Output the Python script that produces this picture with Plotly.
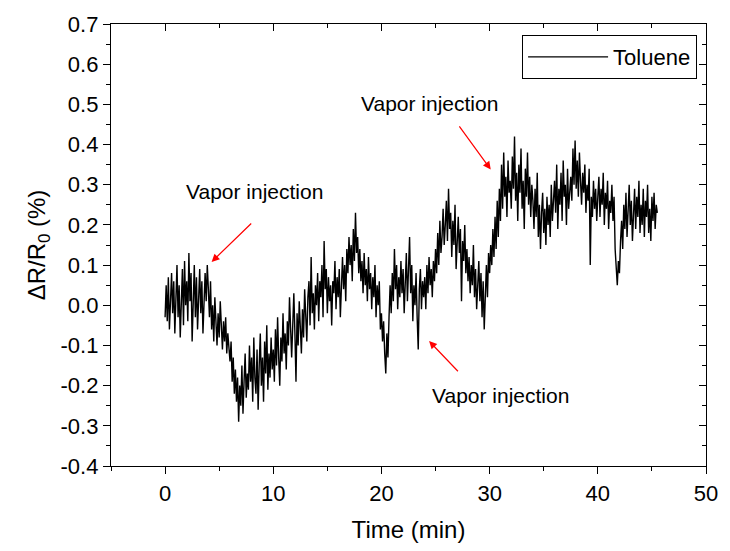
import plotly.graph_objects as go

t_step = 0.1
response = [
    -0.03, 0.05, -0.04, 0.07, -0.06, 0.03, 0.08, -0.02, 0.06, -0.07, 0.04, 0.10, -0.03, 0.05, -0.08, 0.02, 0.09, -0.05, 0.11, 0.00,
    0.06, -0.04, 0.13, 0.01, 0.08, -0.09, 0.05, 0.10, -0.03, 0.07, -0.06, 0.04, 0.09, -0.02, 0.06, -0.07, 0.03, 0.08, 0.01, 0.10,
    0.04, -0.03, 0.06, -0.06, 0.00, -0.09, 0.02, -0.05, -0.10, -0.02, -0.08, 0.01, -0.06, -0.11, -0.04, -0.09, -0.03, -0.12, -0.07, -0.10,
    -0.14, -0.09, -0.19, -0.13, -0.22, -0.16, -0.24, -0.18, -0.29, -0.20, -0.25, -0.15, -0.27, -0.19, -0.12, -0.23, -0.17, -0.21, -0.10, -0.19,
    -0.13, -0.24, -0.08, -0.18, -0.22, -0.11, -0.26, -0.15, -0.07, -0.20, -0.13, -0.24, -0.09, -0.17, -0.05, -0.21, -0.12, -0.18, -0.08, -0.16,
    -0.11, -0.19, -0.06, -0.15, -0.03, -0.13, -0.20, -0.08, -0.14, -0.02, -0.12, -0.07, -0.16, -0.04, -0.10, 0.02, -0.09, -0.13, -0.05, 0.03,
    -0.07, -0.19, -0.02, -0.10, 0.01, -0.06, -0.12, -0.01, -0.08, 0.04, -0.04, -0.09, 0.02, 0.06, -0.05, 0.12, -0.02, 0.03, -0.06, 0.05,
    0.00, 0.08, -0.04, 0.06, 0.02, 0.10, -0.03, 0.16, 0.04, 0.09, -0.02, 0.07, 0.01, 0.05, -0.05, 0.06, 0.03, 0.11, -0.01, 0.07,
    0.02, 0.09, -0.03, 0.06, 0.12, 0.04, 0.10, 0.01, 0.14, 0.08, 0.17, 0.10, 0.15, 0.06, 0.19, 0.11, 0.23, 0.13, 0.17, 0.08,
    0.14, 0.06, 0.11, 0.03, 0.13, 0.05, 0.09, 0.01, 0.12, 0.04, 0.08, -0.01, 0.07, 0.02, 0.10, -0.03, 0.05, 0.00, 0.06, -0.06,
    -0.02, -0.09, -0.04, -0.12, -0.17, -0.07, -0.13, -0.03, 0.05, -0.02, 0.08, 0.01, 0.14, 0.04, 0.10, -0.01, 0.07, 0.02, 0.11, 0.03,
    0.09, -0.02, 0.06, 0.13, 0.01, 0.08, 0.17, 0.03, 0.10, -0.04, 0.05, 0.00, 0.08, -0.03, -0.11, 0.04, 0.09, -0.01, 0.06, 0.02,
    0.07, -0.01, 0.10, 0.03, 0.12, 0.05, 0.09, 0.02, 0.11, 0.06, 0.14, 0.08, 0.18, 0.10, 0.21, 0.13, 0.17, 0.24, 0.15, 0.20,
    0.26, 0.16, 0.29, 0.19, 0.23, 0.12, 0.21, 0.15, 0.25, 0.09, 0.18, 0.22, 0.13, 0.19, 0.01, 0.16, 0.11, 0.20, 0.08, 0.14,
    0.06, 0.12, 0.03, 0.10, 0.05, 0.15, 0.02, 0.09, -0.01, 0.07, 0.11, 0.01, 0.08, -0.03, 0.06, -0.06, 0.04, 0.10, 0.02, 0.13,
    0.08, 0.15, 0.10, 0.19, 0.12, 0.22, 0.14, 0.26, 0.17, 0.29, 0.21, 0.35, 0.24, 0.38, 0.27, 0.32, 0.22, 0.36, 0.28, 0.31,
    0.24, 0.37, 0.29, 0.42, 0.26, 0.33, 0.21, 0.35, 0.28, 0.39, 0.24, 0.31, 0.19, 0.34, 0.27, 0.38, 0.25, 0.32, 0.22, 0.30,
    0.26, 0.19, 0.29, 0.22, 0.33, 0.17, 0.25, 0.14, 0.23, 0.28, 0.18, 0.24, 0.15, 0.27, 0.20, 0.25, 0.17, 0.30, 0.21, 0.26,
    0.31, 0.23, 0.35, 0.19, 0.29, 0.25, 0.33, 0.21, 0.36, 0.27, 0.30, 0.20, 0.34, 0.24, 0.28, 0.32, 0.26, 0.39, 0.30, 0.41,
    0.29, 0.36, 0.27, 0.38, 0.31, 0.25, 0.33, 0.28, 0.35, 0.23, 0.30, 0.26, 0.34, 0.10, 0.27, 0.22, 0.31, 0.24, 0.29, 0.21,
    0.27, 0.32, 0.22, 0.29, 0.25, 0.33, 0.20, 0.28, 0.24, 0.31, 0.19, 0.26, 0.23, 0.30, 0.21, 0.27, 0.14, 0.09, 0.05, 0.11,
    0.08, 0.16, 0.21, 0.14, 0.25, 0.19, 0.28, 0.17, 0.23, 0.30, 0.20, 0.26, 0.16, 0.24, 0.29, 0.19, 0.27, 0.22, 0.31, 0.18,
    0.25, 0.20, 0.29, 0.17, 0.26, 0.22, 0.30, 0.18, 0.24, 0.16, 0.27, 0.21, 0.28, 0.19, 0.25, 0.23,
]
time_min = [round(i * t_step, 2) for i in range(len(response))]

series_name = "Toluene"
x_title = "Time (min)"
y_title = "ΔR/R<sub>0</sub> (%)"
x_range = [-5, 50]
y_range = [-0.4, 0.7]
x_ticks = [0, 10, 20, 30, 40, 50]
x_minor = [-5, 5, 15, 25, 35, 45]
y_ticks = [-0.4, -0.3, -0.2, -0.1, 0.0, 0.1, 0.2, 0.3, 0.4, 0.5, 0.6, 0.7]
y_ticklabels = ["-0.4", "-0.3", "-0.2", "-0.1", "0.0", "0.1", "0.2", "0.3", "0.4", "0.5", "0.6", "0.7"]

# annotations: (text x, text y, arrow head x, arrow head y, arrow tail x, arrow tail y)
notes = [
    (8.3, 0.284, 4.3, 0.108, 8.1, 0.207),
    (24.45, 0.503, 30.1, 0.338, 27.1, 0.449),
    (31.0, -0.224, 24.4, -0.089, 27.2, -0.168),
]
note_text = "Vapor injection"

font_family = "Liberation Sans, Arial, sans-serif"

fig = go.Figure()
fig.add_trace(go.Scatter(x=time_min, y=response, mode="lines", name=series_name,
                         line=dict(color="black", width=1.4)))
fig.add_trace(go.Scatter(x=[None], y=[None], xaxis="x2", yaxis="y2", showlegend=False,
                         hoverinfo="skip"))

common = dict(showline=True, linecolor="black", linewidth=1.3, showgrid=False,
              zeroline=False, ticks="outside", ticklen=7, tickwidth=1.3,
              tickcolor="black", tickfont=dict(size=22, family=font_family, color="black"))

fig.update_layout(
    width=730, height=551,
    margin=dict(l=111, r=18, t=20, b=85),
    paper_bgcolor="white", plot_bgcolor="white",
    font=dict(family=font_family, color="black"),
    xaxis=dict(range=x_range, tickvals=x_ticks,
               minor=dict(tickvals=x_minor, ticks="outside", ticklen=4,
                          tickcolor="black", tickwidth=1.3),
               title=dict(text=x_title, font=dict(size=24, family=font_family), standoff=16),
               **common),
    yaxis=dict(range=y_range, tickvals=y_ticks, ticktext=y_ticklabels,
               minor=dict(dtick=0.05, tick0=0, ticks="outside", ticklen=4, tickcolor="black", tickwidth=1.3),
               title=dict(text=y_title, font=dict(size=24, family=font_family), standoff=8),
               **common),
    xaxis2=dict(range=x_range, overlaying="x", side="top", showline=True, linecolor="black",
                linewidth=1.3, ticks="inside", ticklen=7, tickwidth=1.3, tickcolor="black",
                tickvals=x_ticks, showticklabels=False, showgrid=False,
                zeroline=False,
                minor=dict(tickvals=x_minor, ticks="inside", ticklen=4,
                           tickcolor="black", tickwidth=1.3)),
    yaxis2=dict(range=y_range, overlaying="y", side="right", showline=True, linecolor="black",
                linewidth=1.3, ticks="inside", ticklen=7, tickwidth=1.3, tickcolor="black",
                tickvals=y_ticks, showticklabels=False, showgrid=False, zeroline=False,
                minor=dict(dtick=0.05, tick0=0, ticks="inside", ticklen=4, tickcolor="black", tickwidth=1.3)),
    legend=dict(x=0.985, y=0.975, xanchor="right", yanchor="top",
                bordercolor="black", borderwidth=1, bgcolor="white",
                font=dict(size=22, family=font_family), itemwidth=80),
    showlegend=True,
)

for tx, ty, hx, hy, ax_, ay_ in notes:
    fig.add_annotation(x=tx, y=ty, text=note_text, showarrow=False,
                       font=dict(size=21, family=font_family, color="black"))
    fig.add_annotation(x=hx, y=hy, ax=ax_, ay=ay_, axref="x", ayref="y", text="",
                       showarrow=True, arrowhead=2, arrowsize=1.3, arrowwidth=1.2,
                       arrowcolor="red")

fig.write_html("out.html")
